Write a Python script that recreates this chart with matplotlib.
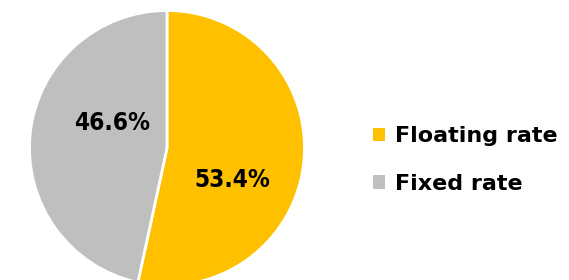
import matplotlib
matplotlib.use("Agg")
import matplotlib.pyplot as plt
from matplotlib.patches import Patch

categories = ["Floating rate", "Fixed rate"]
values = [53.4, 46.6]
colors = ["#FFC000", "#BFBFBF"]

W, H = 569, 280
fig = plt.figure(figsize=(W / 100, H / 100), dpi=100)
ax = fig.add_axes([0, 0, 1, 1])
ax.set_xlim(0, W)
ax.set_ylim(0, H)
ax.set_aspect("equal")
ax.axis("off")

cx, cy, r = 167, H - 148, 137.5
wedges, texts, autotexts = ax.pie(
    values, colors=colors, startangle=90, counterclock=False,
    center=(cx, cy), radius=r, autopct="%.1f%%", pctdistance=0.5,
    wedgeprops=dict(edgecolor="white", linewidth=2),
    textprops=dict(fontsize=17.5, fontweight="bold", color="black",
                   family="DejaVu Sans", fontstretch="condensed"),
)
ax.set_xlim(0, W)
ax.set_ylim(0, H)
# label placement matching reference
autotexts[0].set_position((232, H - 180))
autotexts[1].set_position((112, H - 123))

handles = [Patch(facecolor=c, edgecolor="none") for c in colors]
leg = fig.legend(handles, categories, loc="center left", bbox_to_anchor=(353 / W, 1 - 160 / H),
                 frameon=False, handlelength=0.55, handleheight=0.55, handletextpad=0.45,
                 labelspacing=1.25,
                 prop=dict(family="DejaVu Sans", weight="bold", size=16))
fig.savefig("out.png", dpi=100)
